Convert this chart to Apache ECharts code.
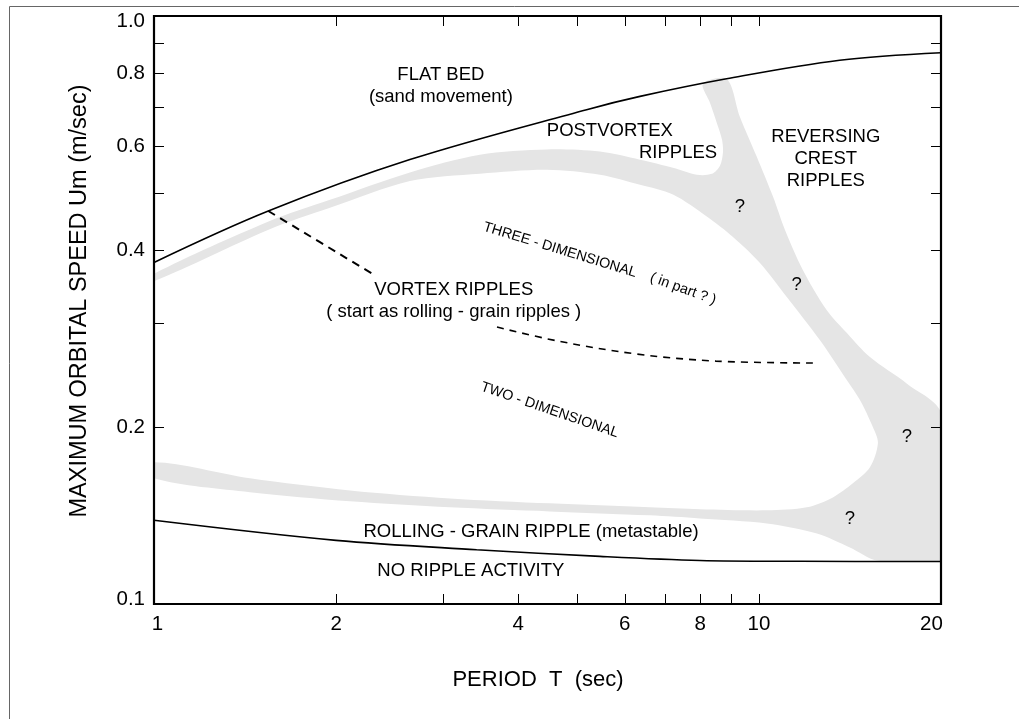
<!DOCTYPE html>
<html><head><meta charset="utf-8">
<script src="https://cdn.jsdelivr.net/npm/echarts@6/dist/echarts.min.js"></script>
<style>html,body{margin:0;padding:0;background:#fff}#chart{width:1019px;height:719px}</style>
</head><body><div id="chart"></div>
<script>
// ---- axis range, ticks and labels ----
const T_MIN = 1, T_MAX = 20, U_MIN = 0.1, U_MAX = 1;
const xTickValues = [2, 3, 4, 5, 6, 7, 8, 9, 10];
const xLabelValues = [1, 2, 4, 6, 8, 10, 20];
const yTickValues = [0.2, 0.3, 0.4, 0.5, 0.6, 0.7, 0.8, 0.9];
const yLabelValues = [0.1, 0.2, 0.4, 0.6, 0.8, 1.0];

// ---- boundary curves (T sec, Um m/s) ----
const upperBoundT = [1, 1.545, 2.649, 5.19, 6.36, 8.84, 13.6, 20];
const upperBoundU = [0.381, 0.466, 0.570, 0.693, 0.730, 0.782, 0.841, 0.866];
const lowerBoundT = [1, 2, 3.415, 5.46, 7.99, 11.7, 20];
const lowerBoundU = [0.1388, 0.1283, 0.1237, 0.1205, 0.1186, 0.1182, 0.1181];
const dashUpperT = [1.545, 2.29];
const dashUpperU = [0.466, 0.365];
const dashLowerT = [3.69, 4.65, 6.29, 8.49, 12.28];
const dashLowerU = [0.2958, 0.2801, 0.2661, 0.2589, 0.2569];

// ---- gray transition band outline (T, Um) ----
const bandUpperTop = [[1,0.3643],[1.543,0.4467],[1.954,0.4868],[2.649,0.542],[3.458,0.581],[4.463,0.593],[5.46,0.588],[6.36,0.5695],[7.21,0.552],[7.90,0.537],[8.36,0.539],[8.62,0.556],[8.72,0.5855],[8.69,0.616],[8.52,0.658],[8.30,0.712],[8.08,0.767]];
const bandVerticalRight = [[8.85,0.781],[9.30,0.674],[9.92,0.576],[10.55,0.493],[11.04,0.433],[11.82,0.370],[12.95,0.316],[13.98,0.289],[15.26,0.263],[17.57,0.237],[20,0.211],[20,0.121],[20,0.1181],[19.6,0.1181],[15.67,0.1186]];
const bandLowerBottom = [[14.14,0.1248],[12.47,0.1318],[10.31,0.1371],[7.99,0.1398],[6.60,0.1415],[4.51,0.1437],[3.085,0.146],[2.109,0.1495],[1.441,0.1549],[1,0.1636]];
const bandLowerTop = [[1,0.1742],[1.441,0.1636],[2.109,0.156],[3.085,0.1512],[4.51,0.1483],[6.60,0.146],[7.99,0.1449],[10.31,0.1443],[12.0,0.146],[13.25,0.1518],[14.30,0.1604],[15.26,0.1708],[15.73,0.1877],[15.43,0.1999],[14.69,0.2222]];
const bandVerticalLeft = [[13.98,0.2402],[12.61,0.2811],[11.12,0.3327],[10.04,0.3803],[9.06,0.421]];
const bandUpperBottom = [[8.20,0.456],[7.21,0.497],[6.36,0.5163],[5.46,0.537],[4.463,0.5477],[3.458,0.5392],[2.649,0.524],[1.954,0.4718],[1.543,0.4327],[1,0.3542]];

// ---- annotations (anchor in T, Um) ----
const regionText = ['FLAT BED', '(sand movement)', 'POSTVORTEX', 'RIPPLES', 'REVERSING', 'CREST', 'RIPPLES', 'VORTEX RIPPLES', '( start as rolling - grain ripples )', 'ROLLING - GRAIN RIPPLE (metastable)', 'NO RIPPLE ACTIVITY'];
const regionT = [2.98, 2.98, 5.67, 7.35, 12.9, 12.9, 12.9, 3.13, 3.13, 4.20, 3.34];
const regionU = [0.795, 0.729, 0.637, 0.5855, 0.623, 0.572, 0.5245, 0.342, 0.3138, 0.1326, 0.114];
const questionText = ['?', '?', '?', '?'];
const questionT = [9.30, 11.55, 17.57, 14.14];
const questionU = [0.4736, 0.3487, 0.1921, 0.1393];
const slantText = ['THREE - DIMENSIONAL', '( in part ? )', 'TWO - DIMENSIONAL'];
const slantT = [4.69, 7.49, 4.51];
const slantU = [0.400, 0.3434, 0.2137];

// ---- rendering ----
const FONT = '"Liberation Sans", Arial, Helvetica, sans-serif';
const zip = (a, b) => a.map((v, i) => [v, b[i]]);
const crisp = v => Math.round(v) + 0.5;
const bandOutline = [].concat(bandUpperTop, bandVerticalRight, bandLowerBottom, bandLowerTop, bandVerticalLeft, bandUpperBottom);

function areaSeries(points) {
  return {
    type: 'custom', coordinateSystem: 'cartesian2d', silent: true, z: 1,
    data: points,
    renderItem: function (params, api) {
      if (params.dataIndex !== 0) return null;
      const cs = params.coordSys;
      return {
        type: 'group',
        clipPath: { type: 'rect', shape: { x: cs.x + 1, y: cs.y + 1, width: cs.width - 2, height: cs.height - 2 } },
        children: [{
          type: 'polygon',
          shape: { points: points.map(p => api.coord(p)), smooth: 0.3 },
          style: { fill: '#e5e5e5' }
        }]
      };
    }
  };
}

// plot frame: drawn from the axis extents
function frameSeries() {
  return {
    type: 'custom', coordinateSystem: 'cartesian2d', silent: true, z: 9,
    data: [[T_MIN, U_MIN]],
    renderItem: function (params, api) {
      const a = api.coord([T_MIN, U_MIN]);
      const b = api.coord([T_MAX, U_MAX]);
      return {
        type: 'rect',
        shape: { x: a[0], y: b[1], width: b[0] - a[0], height: a[1] - b[1] },
        style: { fill: 'none', stroke: '#000', lineWidth: 2.2 }
      };
    }
  };
}

function xTickSeries() {
  return {
    type: 'custom', coordinateSystem: 'cartesian2d', silent: true, z: 8,
    data: xTickValues.map(v => [v, U_MIN]),
    renderItem: function (params, api) {
      const b = api.coord([api.value(0), U_MIN]);
      const t = api.coord([api.value(0), U_MAX]);
      const x = crisp(b[0]);
      const st = { stroke: '#000', lineWidth: 1 };
      return { type: 'group', children: [
        { type: 'line', shape: { x1: x, y1: b[1], x2: x, y2: b[1] - 10 }, style: st },
        { type: 'line', shape: { x1: x, y1: t[1], x2: x, y2: t[1] + 10 }, style: st }
      ] };
    }
  };
}

function yTickSeries() {
  return {
    type: 'custom', coordinateSystem: 'cartesian2d', silent: true, z: 8,
    data: yTickValues.map(v => [T_MIN, v]),
    renderItem: function (params, api) {
      const l = api.coord([T_MIN, api.value(1)]);
      const r = api.coord([T_MAX, api.value(1)]);
      const y = crisp(l[1]);
      const st = { stroke: '#000', lineWidth: 1 };
      return { type: 'group', children: [
        { type: 'line', shape: { x1: l[0], y1: y, x2: l[0] + 10, y2: y }, style: st },
        { type: 'line', shape: { x1: r[0], y1: y, x2: r[0] - 10, y2: y }, style: st }
      ] };
    }
  };
}

function textSeries(texts, ts, us, size, anglesDeg) {
  return {
    type: 'custom', coordinateSystem: 'cartesian2d', silent: true, z: 6,
    data: zip(ts, us),
    renderItem: function (params, api) {
      const c = api.coord([api.value(0), api.value(1)]);
      const a = anglesDeg ? anglesDeg[params.dataIndex] : 0;
      return {
        type: 'text', x: c[0], y: c[1], rotation: a * Math.PI / 180,
        style: { text: texts[params.dataIndex], fontSize: size, fontFamily: FONT, fill: '#000', align: 'center', verticalAlign: 'middle' }
      };
    }
  };
}

function lineSeries(ts, us, width, dash) {
  return {
    type: 'line', data: zip(ts, us), smooth: 0.35, symbol: 'none', silent: true, z: 4,
    lineStyle: { color: '#000', width: width, type: dash || 'solid' }
  };
}

const axisBase = {
  type: 'log', logBase: 10,
  axisLine: { show: false },
  axisTick: { show: false },
  splitLine: { show: false }, minorTick: { show: false }, minorSplitLine: { show: false }
};
const labelFont = 20.5;

const option = {
  animation: false,
  backgroundColor: '#fff',
  grid: { left: 154, right: 78, top: 16, bottom: 115, containLabel: false },
  xAxis: [
    Object.assign({}, axisBase, {
      min: T_MIN, max: T_MAX, position: 'bottom',
      axisLabel: {
        show: true, customValues: xLabelValues, margin: 10, color: '#000', fontSize: labelFont, fontFamily: FONT,
        formatter: function (v) {
          if (Math.abs(v - 1) < 1e-9) return '{a|1}';
          if (Math.abs(v - 20) < 1e-9) return '{b|20}';
          return String(Math.round(v));
        },
        rich: {
          a: { padding: [0, 0, 0, 7], fontSize: labelFont, fontFamily: FONT, color: '#000' },
          b: { padding: [0, 19, 0, 0], fontSize: labelFont, fontFamily: FONT, color: '#000' }
        }
      }
    })
  ],
  yAxis: [
    Object.assign({}, axisBase, {
      min: U_MIN, max: U_MAX, position: 'left',
      axisLabel: {
        show: true, customValues: yLabelValues, margin: 9, color: '#000', fontSize: labelFont, fontFamily: FONT,
        formatter: function (v) {
          const s = v.toFixed(1);
          if (s === '0.1') return '{lo|0.1}';
          if (s === '1.0') return '{hi|1.0}';
          return s;
        },
        rich: {
          lo: { padding: [0, 0, 10, 0], fontSize: labelFont, fontFamily: FONT, color: '#000' },
          hi: { padding: [10, 0, 0, 0], fontSize: labelFont, fontFamily: FONT, color: '#000' }
        }
      }
    })
  ],
  graphic: [
    { type: 'rect', silent: true, z: -10, shape: { x: 9.5, y: 6.5, width: 1100, height: 800 }, style: { fill: null, stroke: '#666', lineWidth: 1 } },
    { type: 'text', silent: true, x: 80, y: 301, rotation: Math.PI / 2,
      style: { text: 'MAXIMUM ORBITAL SPEED Um (m/sec)', fontSize: 23.5, fontFamily: FONT, fill: '#000', align: 'center', verticalAlign: 'middle' } },
    { type: 'text', silent: true, x: 538, y: 680,
      style: { text: 'PERIOD\u00a0\u00a0T\u00a0\u00a0(sec)', fontSize: 22, fontFamily: FONT, fill: '#000', align: 'center', verticalAlign: 'middle' } }
  ],
  series: [
    areaSeries(bandOutline),
    lineSeries(upperBoundT, upperBoundU, 1.6),
    lineSeries(lowerBoundT, lowerBoundU, 1.6),
    lineSeries(dashUpperT, dashUpperU, 2, [8, 6]),
    lineSeries(dashLowerT, dashLowerU, 1.6, [7, 6]),
    xTickSeries(),
    yTickSeries(),
    frameSeries(),
    textSeries(regionText, regionT, regionU, 18.5),
    textSeries(questionText, questionT, questionU, 18.5),
    textSeries(slantText, slantT, slantU, 14.3, [-17, -20, -19])
  ]
};

const chart = echarts.init(document.getElementById('chart'), null, { renderer: 'canvas', width: 1019, height: 719 });
chart.setOption(option);
</script>
</body></html>
